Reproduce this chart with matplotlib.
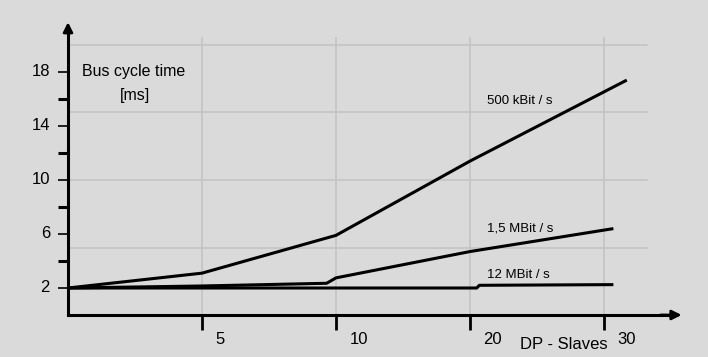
import matplotlib
matplotlib.use("Agg")
import matplotlib.pyplot as plt
import numpy as np

# ---- data ----
x_tick_labels = ["5", "10", "20", "30"]          # DP slaves (categorical positions 1..4)
x_tick_pos = [1, 2, 3, 4]
y_major = [2, 6, 10, 14, 18]
y_minor = [4, 8, 12, 16]
grid_y = [5, 10, 15, 20]

x_500k = [0, 1, 2, 3, 4.17]
y_500k = [2.0, 3.1, 5.9, 11.4, 17.4]
x_15M = [0, 1, 1.93, 2.0, 3, 4.07]
y_15M = [2.0, 2.15, 2.35, 2.75, 4.7, 6.4]
x_12M = [0, 1, 2, 3.05, 3.07, 4.07]
y_12M = [2.0, 2.0, 2.0, 2.0, 2.2, 2.25]

series_labels = ["500 kBit / s", "1,5 MBit / s", "12 MBit / s"]
label_pos = [(3.13, 15.85), (3.13, 6.4), (3.13, 2.95)]

plt.rcParams['font.family'] = ['Liberation Sans', 'DejaVu Sans']

W, H = 708, 357
fig = plt.figure(figsize=(W / 100, H / 100), dpi=100)
fig.patch.set_facecolor("#dadada")
ax = fig.add_axes([0, 0, 1, 1])
ax.set_facecolor("#dadada")

px_x, px_y = 134.0, 13.5
x0, y0 = 68, 315
ax.set_xlim(-x0 / px_x, (W - x0) / px_x)
ax.set_ylim(-(H - y0) / px_y, y0 / px_y)

# grid
for g in grid_y:
    ax.plot([0, 4.32], [g, g], color="#c4c4c4", lw=1.2, zorder=1)
for xp in x_tick_pos:
    ax.plot([xp, xp], [0, 20.5], color="#c4c4c4", lw=1.2, zorder=1)

# axes spines
for s in ["top", "right"]:
    ax.spines[s].set_visible(False)
ax.spines["left"].set_position(("data", 0))
ax.spines["bottom"].set_position(("data", 0))
ax.spines["left"].set_bounds(0, 21.2)
ax.spines["bottom"].set_bounds(0, 4.5)
for s in ["left", "bottom"]:
    ax.spines[s].set_linewidth(2.2)
    ax.spines[s].set_zorder(5)
# arrowheads
ax.annotate("", xy=(0, 21.9), xytext=(0, 20.8),
            arrowprops=dict(arrowstyle="-|>", color="black", lw=2, mutation_scale=14))
ax.annotate("", xy=(4.6, 0), xytext=(4.4, 0),
            arrowprops=dict(arrowstyle="-|>", color="black", lw=2, mutation_scale=14))

ax.set_yticks(y_major)
ax.set_yticks(y_minor, minor=True)
ax.set_yticklabels([])
ax.tick_params(axis="y", which="major", direction="out", length=7, width=1.2, color="black")
ax.tick_params(axis="y", which="minor", direction="out", length=7, width=2.2, color="black")
ax.set_xticks(x_tick_pos)
ax.set_xticklabels([])
ax.tick_params(axis="x", which="major", direction="out", length=11, width=2.0, color="black")

for yv in y_major:
    ax.text(-0.135, yv, str(yv), ha="right", va="center", fontsize=12)
for xp, lab in zip(x_tick_pos, x_tick_labels):
    ax.text(xp + 0.1, -1.85, lab, ha="left", va="center", fontsize=12)

ax.text(3.70, -2.2, "DP - Slaves", ha="center", va="center", fontsize=12)
ax.text(0.49, 18.0, "Bus cycle time", ha="center", va="center", fontsize=11.5)
ax.text(0.5, 16.25, "[ms]", ha="center", va="center", fontsize=11.5)

ax.plot(x_500k, y_500k, color="black", lw=2.2, zorder=4, solid_capstyle="butt")
ax.plot(x_15M, y_15M, color="black", lw=2.2, zorder=4, solid_capstyle="butt")
ax.plot(x_12M, y_12M, color="black", lw=2.2, zorder=4, solid_capstyle="butt")

for lab, (lx, ly) in zip(series_labels, label_pos):
    ax.text(lx, ly, lab, ha="left", va="center", fontsize=9.5)

fig.savefig("out.png", dpi=100, facecolor=fig.get_facecolor())
